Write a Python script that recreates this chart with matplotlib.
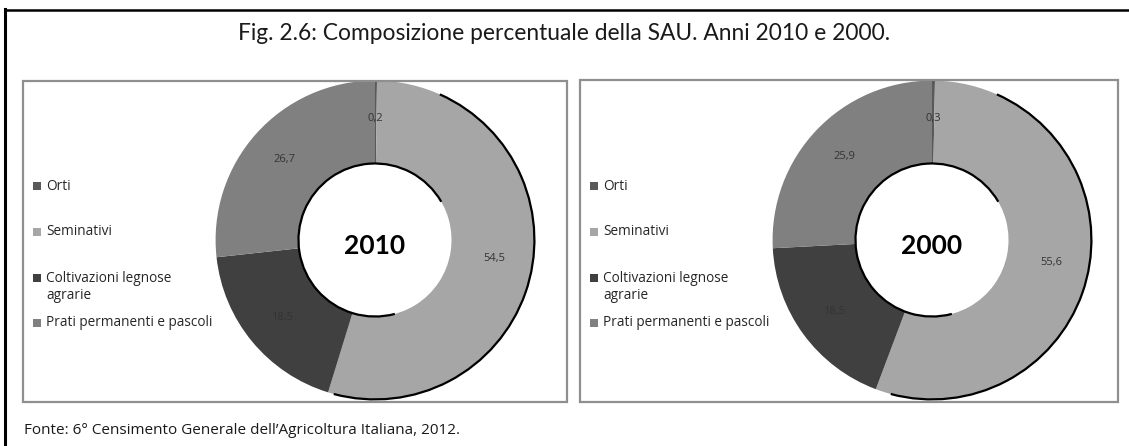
import matplotlib
matplotlib.use("Agg")
import matplotlib.pyplot as plt
from matplotlib.patches import Rectangle, Arc
from matplotlib.lines import Line2D

plt.rcParams['font.family'] = ['Open Sans', 'DejaVu Sans']

# Composizione percentuale della SAU
categorie = ['Orti', 'Seminativi', 'Coltivazioni legnose\nagrarie', 'Prati permanenti e pascoli']
quote_2010 = [0.2, 54.5, 18.5, 26.7]
quote_2000 = [0.3, 55.6, 18.5, 25.9]
anni = ['2010', '2000']
colori = ['#595959', '#a6a6a6', '#404040', '#808080']

W, H = 1129, 446
fig = plt.figure(figsize=(W / 100, H / 100), dpi=100)
fig.patch.set_facecolor('white')

def fx(px):
    return px / W

def fy(py):
    return 1 - py / H

# cornice esterna
fig.add_artist(Line2D([fx(5), fx(5)], [fy(9), 0], color='black', lw=2.2, transform=fig.transFigure))
fig.add_artist(Line2D([fx(5), 1], [fy(10), fy(10)], color='black', lw=1.8, transform=fig.transFigure))

fig.text(fx(564), fy(33), 'Fig. 2.6: Composizione percentuale della SAU. Anni 2010 e 2000.',
         ha='center', va='center', fontsize=16.4, color='#1a1a1a', family=['Lato', 'DejaVu Sans'])
fig.text(fx(24), fy(430), "Fonte: 6° Censimento Generale dell\u2019Agricoltura Italiana, 2012.",
         ha='left', va='center', fontsize=11, color='#1a1a1a')

pannelli = [(23, 81, 567, 402), (580, 80, 1118, 402)]
centri = [(375, 240), (932, 240)]
legenda_x = [33, 590]
legenda_y = [186, 232, 278, 323]
R = 161

for (x0, y0, x1, y1), (cx, cy), lx, valori, anno in zip(pannelli, centri, legenda_x,
                                                      [quote_2010, quote_2000], anni):
    fig.add_artist(Rectangle((fx(x0), fy(y1)), fx(x1 - x0), (y1 - y0) / H, fill=False,
                             edgecolor='#8f8f8f', lw=1.6, transform=fig.transFigure))

    ax = fig.add_axes([fx(cx - R), fy(cy + R), fx(2 * R), 2 * R / H])
    etichette = [f'{v:.1f}'.replace('.', ',') for v in valori]
    wedges, testi = ax.pie(valori, colors=colori, startangle=90, counterclock=False,
                           radius=1, labels=etichette, labeldistance=0.76,
                           wedgeprops=dict(width=0.52, edgecolor='none'),
                           textprops=dict(fontsize=8, color='#333333', ha='center', va='center'))
    for t in testi:
        t.set_ha('center')
    # bordo scuro del bordo esterno e del foro
    ax.add_patch(Arc((0, 0), 2.0, 2.0, theta1=-105, theta2=66, color='black', lw=1.6))
    ax.add_patch(Arc((0, 0), 0.96, 0.96, theta1=30, theta2=285, color='black', lw=1.6))
    ax.text(0, -0.04, anno, ha='center', va='center', fontsize=19, fontweight='bold',
            color='black', family=['Lato', 'DejaVu Sans'])
    ax.set_xlim(-1.01, 1.01)
    ax.set_ylim(-1.01, 1.01)
    ax.set_aspect('equal')
    ax.axis('off')

    # legenda
    for w, nome, ly in zip(wedges, categorie, legenda_y):
        fig.add_artist(Rectangle((fx(lx), fy(ly + 4)), fx(8), 8 / H,
                                 facecolor=w.get_facecolor(), edgecolor='none',
                                 transform=fig.transFigure))
        fig.text(fx(lx + 13), fy(ly - 7.5), nome, ha='left', va='top', fontsize=9.8,
                 color='#262626', linespacing=1.25)

fig.savefig('out.png', dpi=100, facecolor='white')
